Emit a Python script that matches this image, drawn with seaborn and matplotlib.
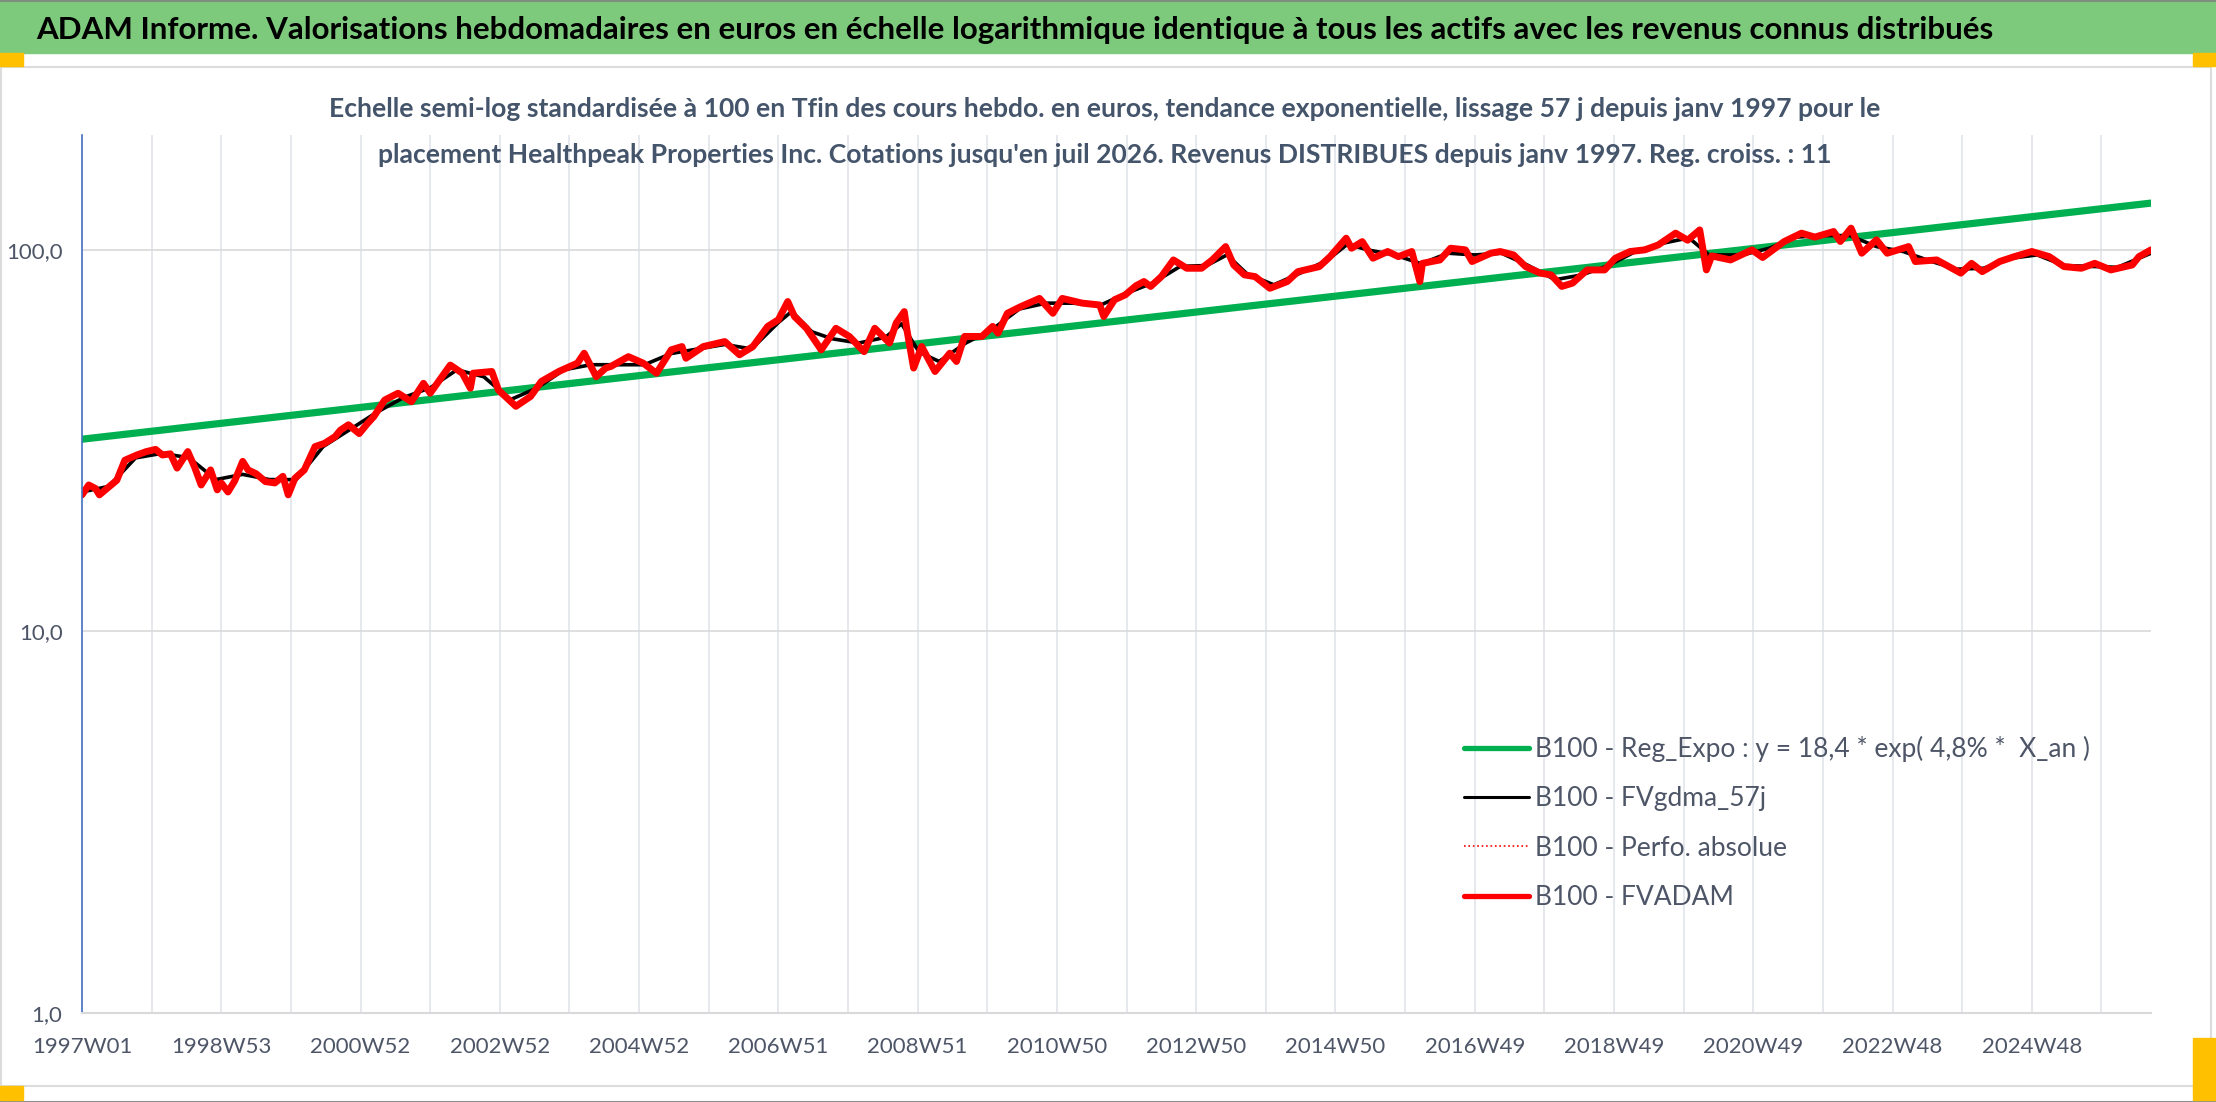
import matplotlib
matplotlib.use("Agg")
import matplotlib.pyplot as plt
import seaborn as sns
from matplotlib.lines import Line2D
from matplotlib.patches import Rectangle
from matplotlib.ticker import NullLocator

# --- data (week index since 1997W01, values base 100) ---
x_labels = ['1997W01', '1998W53', '2000W52', '2002W52', '2004W52', '2006W51', '2008W51',
            '2010W50', '2012W50', '2014W50', '2016W49', '2018W49', '2020W49', '2022W48', '2024W48']

red_weeks = [
    0, 5, 10, 13, 20, 26, 32, 41, 48, 55,
    60, 66, 71, 79, 84, 89, 96, 101, 104, 109,
    114, 120, 124, 130, 137, 144, 150, 154, 159, 166,
    174, 181, 189, 193, 199, 207, 213, 218, 226, 236,
    246, 255, 260, 275, 284, 290, 292, 306, 311, 324,
    335, 343, 356, 370, 375, 384, 391, 395, 408, 419,
    429, 440, 448, 451, 464, 480, 491, 501, 512, 520,
    527, 532, 541, 552, 563, 573, 584, 592, 603, 608,
    614, 616, 621, 627, 637, 648, 653, 659, 672, 680,
    684, 691, 701, 715, 725, 732, 747, 760, 763, 771,
    779, 787, 793, 798, 806, 815, 825, 836, 844, 854,
    860, 868, 876, 887, 900, 908, 924, 932, 944, 948,
    956, 964, 975, 983, 993, 999, 1001, 1014, 1022, 1033,
    1038, 1052, 1059, 1069, 1078, 1089, 1097, 1105, 1113, 1124,
    1137, 1145, 1156, 1167, 1177, 1190, 1199, 1208, 1213, 1217,
    1231, 1247, 1255, 1271, 1284, 1294, 1308, 1313, 1321, 1329,
    1340, 1348, 1364, 1369, 1385, 1403, 1411, 1419, 1432, 1443,
    1456, 1469, 1480, 1493, 1503, 1515, 1531, 1536, 1545]
fvadam = [
    22.8, 24.2, 23.7, 22.8, 23.9, 24.9, 28.1, 29.0, 29.6, 30.0,
    29.0, 29.2, 26.8, 29.6, 27.0, 24.2, 26.5, 23.5, 24.5, 23.2,
    24.8, 27.9, 26.5, 25.9, 24.7, 24.5, 25.5, 22.8, 25.2, 26.5,
    30.5, 31.1, 32.4, 33.7, 34.8, 33.0, 35.0, 36.6, 40.4, 42.1,
    40.0, 44.7, 42.1, 49.9, 47.5, 43.4, 47.5, 48.0, 42.9, 38.9,
    41.3, 45.2, 48.0, 50.5, 53.6, 46.5, 49.0, 49.5, 52.5, 50.5,
    47.5, 54.7, 55.8, 52.0, 55.8, 57.5, 53.1, 55.8, 63.0, 65.6,
    73.2, 66.9, 62.3, 54.7, 62.3, 59.3, 54.1, 62.3, 57.0, 64.3,
    68.9, 61.7, 49.0, 55.8, 48.0, 53.6, 51.0, 59.3, 59.3, 63.0,
    60.5, 68.2, 71.0, 74.6, 68.2, 74.6, 72.5, 71.7, 66.9, 74.0,
    76.2, 80.5, 82.6, 80.2, 85.1, 94.1, 89.5, 89.5, 94.1, 102.0,
    91.3, 86.0, 85.1, 79.3, 82.6, 87.7, 90.4, 96.0, 107.3, 101.0,
    105.1, 95.1, 99.0, 96.0, 99.0, 82.6, 92.2, 94.1, 101.0, 100.0,
    93.2, 98.0, 99.0, 97.0, 90.4, 86.9, 86.0, 80.2, 81.8, 88.6,
    88.6, 95.1, 99.0, 100.0, 103.0, 110.6, 106.0, 112.8, 88.6, 96.4,
    94.1, 100.0, 95.5, 105.1, 110.6, 108.0, 111.7, 105.2, 114.0, 98.0,
    106.2, 98.0, 102.0, 93.2, 94.1, 86.9, 92.2, 87.7, 93.2, 96.0,
    99.0, 96.0, 90.4, 89.5, 92.2, 88.6, 91.3, 96.0, 100.0]

ma_weeks = [0, 20, 40, 60, 80, 100, 120, 140, 160, 180, 200, 220, 240, 260, 280, 300, 320,
            340, 360, 380, 400, 420, 440, 460, 480, 500, 520, 530, 545, 560, 580, 600, 612,
            625, 640, 660, 680, 700, 720, 740, 760, 780, 800, 820, 840, 855, 870, 890, 910,
            930, 945, 960, 980, 1000, 1020, 1040, 1060, 1080, 1100, 1120, 1140, 1160, 1180,
            1200, 1215, 1240, 1260, 1280, 1300, 1320, 1340, 1360, 1380, 1400, 1420, 1440,
            1460, 1480, 1500, 1520, 1545]
fvgdma = [23.2, 24.0, 28.5, 29.3, 28.5, 25.0, 25.8, 25.0, 25.0, 30.5, 33.8, 37.5, 41.0,
          43.5, 48.5, 46.5, 40.5, 43.5, 48.5, 50.0, 50.0, 50.0, 53.5, 55.0, 56.5, 55.0,
          64.5, 69.0, 61.0, 58.5, 57.0, 59.0, 64.0, 54.0, 51.0, 57.0, 62.0, 70.0, 72.5,
          72.5, 71.5, 77.0, 82.0, 90.5, 91.0, 97.0, 86.5, 81.0, 87.0, 94.0, 103.5, 100.0,
          97.0, 92.0, 98.0, 97.0, 98.0, 91.0, 83.5, 86.0, 91.0, 99.0, 104.0, 107.5, 97.0,
          97.0, 101.0, 108.0, 109.0, 109.0, 102.0, 99.0, 93.5, 89.0, 89.5, 95.0, 97.0,
          91.0, 90.5, 90.0, 98.0]

reg_weeks = [0, 1545]
reg_expo = [31.9, 132.6]

legend_labels = ['B100 - Reg_Expo : y = 18,4 * exp( 4,8% *  X_an )',
                 'B100 - FVgdma_57j',
                 'B100 - Perfo. absolue',
                 'B100 - FVADAM']

title_text = ("ADAM Informe. Valorisations hebdomadaires en euros en échelle logarithmique "
              "identique à tous les actifs avec les revenus connus distribués")
sub_line1 = ("Echelle semi-log standardisée à 100 en Tfin des cours hebdo. en euros, "
             "tendance exponentielle, lissage 57 j depuis janv 1997 pour le")
sub_line2 = ("placement Healthpeak Properties Inc. Cotations jusqu'en juil 2026. "
             "Revenus DISTRIBUES depuis janv 1997. Reg. croiss. : 11")

# --- style ---
sns.set_style("white")
plt.rcParams['font.family'] = ['Lato', 'DejaVu Sans']

W, H = 2216, 1102
fig = plt.figure(figsize=(W / 100, H / 100), dpi=100)
fig.patch.set_facecolor('white')

# header band, frame and the little orange handles
fig.add_artist(Rectangle((0, 1 - 53 / H), 1, 53 / H, transform=fig.transFigure,
                         color='#7DCA7D', zorder=0))
fig.add_artist(Line2D([0, 1], [1 - 1 / H, 1 - 1 / H], transform=fig.transFigure,
                      color='#7F8F7F', lw=1.5))
fig.add_artist(Line2D([0, 1], [0.5 / H, 0.5 / H], transform=fig.transFigure,
                      color='#8C8C8C', lw=1.5))
fig.add_artist(Rectangle((1 / W, 1 - 1086 / H), 2210 / W, (1086 - 67) / H,
                         transform=fig.transFigure, fill=False, ec='#DCDCDC', lw=1.5))
for (x0, y0, w, h) in [(0, 53, 23, 13), (2193, 53, 23, 13), (0, 1086, 23, 14), (2193, 1038, 23, 62)]:
    fig.add_artist(Rectangle((x0 / W, 1 - (y0 + h) / H), w / W, h / H,
                             transform=fig.transFigure, color='#FFC000', zorder=5))

ax = fig.add_axes([82 / W, 1 - 1013 / H, (2151 - 82) / W, (1013 - 135) / H])
ax.set_yscale('log')

sns.lineplot(x=reg_weeks, y=reg_expo, color='#00B050', lw=5.2, estimator=None, ax=ax)
sns.lineplot(x=ma_weeks, y=fvgdma, color='black', lw=2.6, estimator=None, ax=ax)
sns.lineplot(x=red_weeks, y=fvadam, color='red', lw=1.0, ls=':', estimator=None, ax=ax)
sns.lineplot(x=red_weeks, y=fvadam, color='#FF0000', lw=5.0, estimator=None, ax=ax)

ax.set_xlim(0, 1545)
ax.set_ylim(1, 200)
ax.set_yticks([1, 10, 100])
ax.set_yticklabels(['1,0', '10,0', '100,0'])
ax.yaxis.set_minor_locator(NullLocator())
xt = list(range(0, 1545, 52))
ax.set_xticks(xt)
ax.set_xticklabels([x_labels[t // 104] if t % 104 == 0 else '' for t in xt])
ax.set_xlabel('')
ax.set_ylabel('')

ax.set_axisbelow(True)
ax.xaxis.grid(True, color='#DEE2E8', lw=1.1)
ax.yaxis.grid(True, color='#D9D9D9', lw=1.2)
ax.tick_params(axis='x', length=6.5, width=1.1, color='#DEE2E8', pad=11,
               labelsize=16, labelcolor='#4D5567')
ax.tick_params(axis='y', length=0, pad=14, labelsize=16, labelcolor='#4D5567')
for s in ['top', 'right']:
    ax.spines[s].set_visible(False)
ax.spines['left'].set_color('#4472C4')
ax.spines['left'].set_linewidth(1.2)
ax.spines['bottom'].set_color('#D9D9D9')
ax.spines['bottom'].set_linewidth(1.5)

handles = [Line2D([], [], color='#00B050', lw=3.8),
           Line2D([], [], color='black', lw=2.2),
           Line2D([], [], color='red', lw=1.2, ls=':'),
           Line2D([], [], color='#FF0000', lw=3.8)]
ax.legend(handles, legend_labels, loc='upper left', bbox_to_anchor=(1464 / W, 1 - 736 / H),
          bbox_transform=fig.transFigure, frameon=False, fontsize=19, handlelength=2.45,
          handletextpad=0.25, labelspacing=0.92, borderpad=0, borderaxespad=0,
          labelcolor='#4D5567')

title = fig.text(36 / W, 1 - 39 / H, title_text, fontsize=22, fontweight='bold',
                 color='black', ha='left', va='baseline')
sub1 = fig.text(1105 / W, 1 - 117 / H, sub_line1, fontsize=16, fontweight='bold',
                color='#44546A', ha='center', va='baseline')
sub2 = fig.text(1105 / W, 1 - 163 / H, sub_line2, fontsize=16, fontweight='bold',
                color='#44546A', ha='center', va='baseline')

# scale the header texts to the widths seen in the reference
fig.canvas.draw()
r = fig.canvas.get_renderer()
title.set_fontsize(22 * 1953 / title.get_window_extent(r).width)
k = (1567 / sub1.get_window_extent(r).width + 1447 / sub2.get_window_extent(r).width) / 2
sub1.set_fontsize(16 * k)
sub2.set_fontsize(16 * k)

fig.savefig('out.png', dpi=100)
